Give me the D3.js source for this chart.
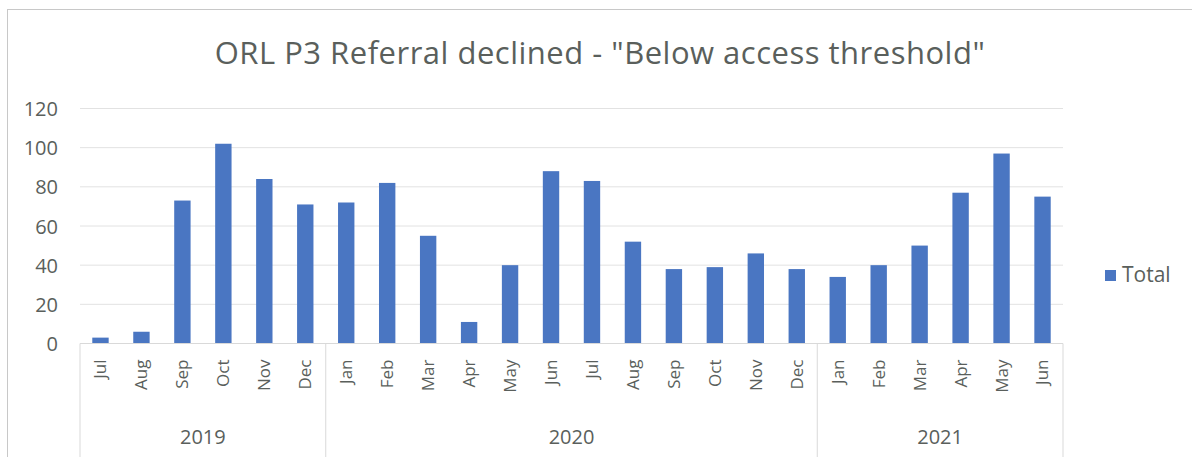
<!DOCTYPE html>
<html>
<head>
<meta charset="utf-8">
<script src="https://cdn.jsdelivr.net/npm/d3@7"></script>
<style>
  body { margin: 0; background: #fff; }
  svg text { font-family: "Open Sans", "Noto Sans", sans-serif; fill: #5a5f5c; }
</style>
</head>
<body>
<svg width="1192" height="457"></svg>
<script>
const title = 'ORL P3 Referral declined - "Below access threshold"';
const years = ['2019', '2020', '2021'];
const months = ['Jul', 'Aug', 'Sep', 'Oct', 'Nov', 'Dec',
  'Jan', 'Feb', 'Mar', 'Apr', 'May', 'Jun', 'Jul', 'Aug', 'Sep', 'Oct', 'Nov', 'Dec',
  'Jan', 'Feb', 'Mar', 'Apr', 'May', 'Jun'];
const monthYear = ['2019', '2019', '2019', '2019', '2019', '2019',
  '2020', '2020', '2020', '2020', '2020', '2020', '2020', '2020', '2020', '2020', '2020', '2020',
  '2021', '2021', '2021', '2021', '2021', '2021'];
const totals = [3, 6, 73, 102, 84, 71,
  72, 82, 55, 11, 40, 88, 83, 52, 38, 39, 46, 38,
  34, 40, 50, 77, 97, 75];
const yTicks = [0, 20, 40, 60, 80, 100, 120];
const seriesName = 'Total';

const svg = d3.select('svg');
const margin = { left: 80, right: 1063, top: 108.5, bottom: 343.5 };

const idx = d3.range(months.length);
const x = d3.scaleBand()
  .domain(idx)
  .range([margin.left, margin.right])
  .paddingInner(0.6)
  .paddingOuter(0.3);
const y = d3.scaleLinear()
  .domain([0, 120])
  .range([margin.bottom, margin.top]);

// chart border
svg.append('rect')
  .attr('x', 7.5).attr('y', 9.5)
  .attr('width', 1200).attr('height', 500)
  .attr('fill', 'none').attr('stroke', '#c8c8c8');

svg.append('text')
  .attr('x', 600).attr('y', 64)
  .attr('text-anchor', 'middle')
  .style('font-size', '31px')
  .style('letter-spacing', '0.5px')
  .text(title);

// gridlines
svg.append('g')
  .selectAll('line')
  .data(yTicks.slice(1))
  .join('line')
  .attr('x1', margin.left).attr('x2', margin.right)
  .attr('y1', d => y(d)).attr('y2', d => y(d))
  .attr('stroke', '#e2e2e2');

const yAxis = svg.append('g')
  .attr('transform', `translate(${margin.left - 22},0)`)
  .call(d3.axisLeft(y).tickValues(yTicks).tickSize(0).tickPadding(0));
yAxis.select('.domain').remove();
yAxis.selectAll('text').style('font-size', '20px').attr('dy', '0.35em');

// bars
svg.append('g')
  .selectAll('rect')
  .data(idx)
  .join('rect')
  .attr('x', i => x(i))
  .attr('width', x.bandwidth())
  .attr('y', i => y(totals[i]))
  .attr('height', i => y(0) - y(totals[i]))
  .attr('fill', '#4a76c2');

// category axis
const step = x.step();
const xAxis = svg.append('g').attr('transform', `translate(0,${margin.bottom})`);
xAxis.append('line')
  .attr('x1', margin.left).attr('x2', margin.right)
  .attr('stroke', '#d9d9d9');

xAxis.selectAll('.month')
  .data(idx)
  .join('text')
  .attr('class', 'month')
  .attr('transform', i => `translate(${x(i) + x.bandwidth() / 2},16) rotate(-90)`)
  .attr('text-anchor', 'end')
  .attr('dy', '0.35em')
  .style('font-size', '17px')
  .text(i => months[i]);

// year groups
const groups = years.map(yr => {
  const members = idx.filter(i => monthYear[i] === yr);
  const x0 = x(members[0]) - (step - x.bandwidth()) / 2;
  const x1 = x(members[members.length - 1]) + x.bandwidth() + (step - x.bandwidth()) / 2;
  return { yr, x0, x1 };
});
groups[0].x0 = margin.left;
groups[groups.length - 1].x1 = margin.right;

const bounds = [groups[0].x0].concat(groups.map(g => g.x1));
xAxis.selectAll('.sep')
  .data(bounds)
  .join('line')
  .attr('class', 'sep')
  .attr('x1', d => d).attr('x2', d => d)
  .attr('y1', 0).attr('y2', 120)
  .attr('stroke', '#d9d9d9');

xAxis.selectAll('.year')
  .data(groups)
  .join('text')
  .attr('class', 'year')
  .attr('x', g => (g.x0 + g.x1) / 2)
  .attr('y', 100)
  .attr('text-anchor', 'middle')
  .style('font-size', '20px')
  .text(g => g.yr);

// legend
const legend = svg.append('g').attr('transform', 'translate(1105,270)');
legend.append('rect').attr('width', 11).attr('height', 11).attr('fill', '#4a76c2');
legend.append('text')
  .attr('x', 17).attr('y', 12)
  .style('font-size', '21px')
  .text(seriesName);
</script>
</body>
</html>
